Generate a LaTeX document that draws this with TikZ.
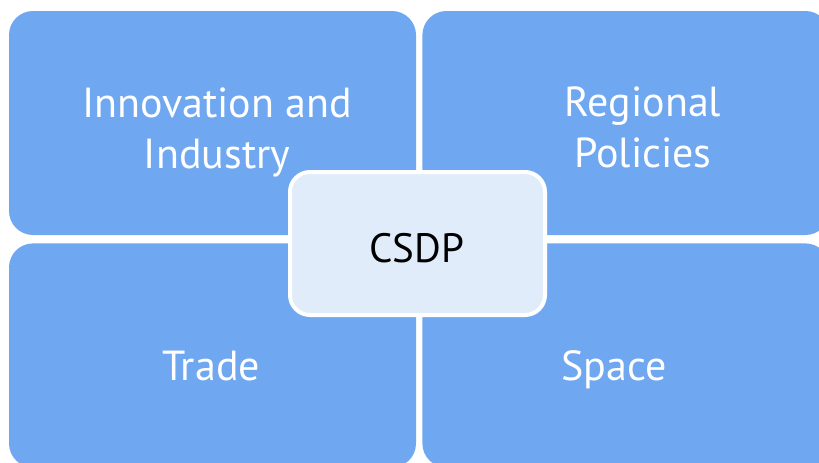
\documentclass[tikz,border=0pt]{standalone}
\usepackage{fontspec}
\setmainfont{PT Sans}
\usetikzlibrary{positioning}

\definecolor{tileblue}{HTML}{6FA8F1}
\definecolor{hubfill}{HTML}{E0ECFA}

\begin{document}
\begin{tikzpicture}[x=1pt, y=-1pt, node distance=6pt,
    tile/.style={fill=tileblue, rectangle, rounded corners=24pt, minimum width=407pt, minimum height=224pt, inner sep=0pt},
    tiletext/.style={text=white, align=center, font=\fontsize{42}{51}\selectfont, inner sep=0pt}]
  \useasboundingbox[fill=white] (0,0) rectangle (819,463);
  \clip (0,0) rectangle (819,463);
  % four tiles around the hub
  \node[tile] (inno) at (212.5,123) {};
  \node[tile, right=6pt of inno] (regio) {};
  \node[tile, below=8pt of inno] (trade) {};
  \node[tile, right=6pt of trade] (space) {};
  \node[draw=white, line width=4pt, fill=hubfill, rectangle, rounded corners=20pt, minimum width=255pt, minimum height=143pt] (csdp) at (417.5,243.5) {};
  % labels (base = last line)
  \node[tiletext, anchor=base] (innotext) at (217,168) {Innovation and\\Industry};
  \node[tiletext, anchor=base] (regiotext) at (643,167) {Regional\\Policies};
  \node[tiletext, anchor=base] (tradetext) at (211,380) {Trade};
  \node[tiletext, anchor=base] (spacetext) at (614,380) {Space};
  \node[inner sep=0pt, font=\fontsize{41}{49}\selectfont, anchor=base] (csdptext) at (417,262) {CSDP};
\end{tikzpicture}
\end{document}
